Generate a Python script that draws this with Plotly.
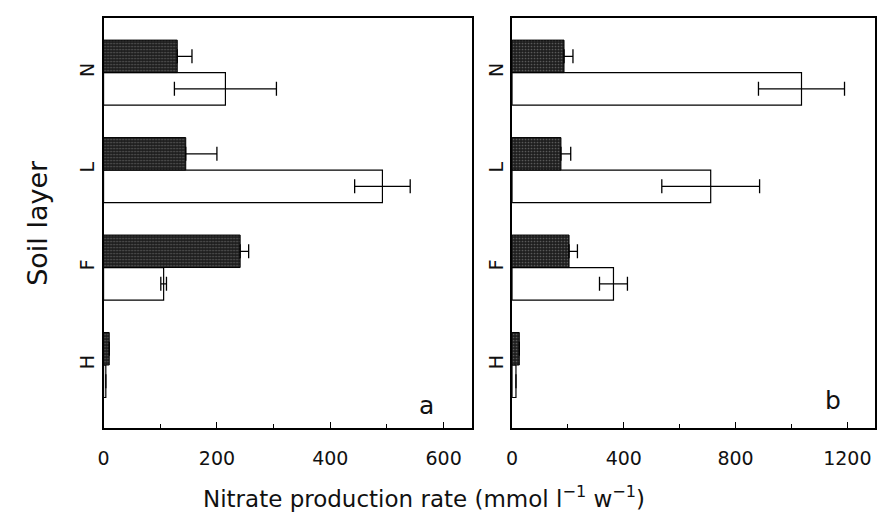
import plotly.graph_objects as go

layers = ["H", "F", "L", "N"]
# panel a
a_dark = [10, 241, 145, 130]
a_dark_err = [0, 15, 55, 26]
a_white = [4, 106, 492, 215]
a_white_err = [0, 5, 49, 90]
# panel b
b_dark = [26, 204, 175, 186]
b_dark_err = [0, 30, 35, 32]
b_white = [14, 363, 711, 1036]
b_white_err = [0, 50, 175, 154]

FONT = "DejaVu Sans"
dark_pattern = dict(shape=".", bgcolor="#1e1e1e", fgcolor="#9a9a9a", size=3, solidity=0.25)

fig = go.Figure()

def add_panel(white, white_err, dark, dark_err, xa, ya):
    fig.add_trace(go.Bar(
        y=layers, x=white, orientation="h", xaxis=xa, yaxis=ya,
        marker=dict(color="white", line=dict(color="black", width=1.2)),
        error_x=dict(type="data", array=white_err, color="black", thickness=1.3, width=7),
        showlegend=False))
    fig.add_trace(go.Bar(
        y=layers, x=dark, orientation="h", xaxis=xa, yaxis=ya,
        marker=dict(color="#1e1e1e", pattern=dark_pattern, line=dict(color="black", width=1)),
        error_x=dict(type="data", array=dark_err, arrayminus=[0] * len(dark_err),
                     symmetric=False, color="black", thickness=1.3, width=7),
        showlegend=False))

add_panel(a_white, a_white_err, a_dark, a_dark_err, "x", "y")
add_panel(b_white, b_white_err, b_dark, b_dark_err, "x2", "y2")

ydom = [0.169, 0.965]
common_x = dict(showline=True, mirror=True, linecolor="black", linewidth=1.5,
                ticks="inside", ticklen=6, tickcolor="black", showgrid=False, zeroline=False,
                ticklabelstandoff=12,
                tickfont=dict(family=FONT, size=19, color="#111"))
common_y = dict(showline=True, mirror=True, linecolor="black", linewidth=1.5,
                ticks="", showgrid=False, zeroline=False, type="category",
                categoryorder="array", categoryarray=layers, range=[-0.646, 3.56],
                tickangle=-90, tickfont=dict(family=FONT, size=19, color="#111"),
                domain=ydom)

fig.update_layout(
    width=877, height=515,
    margin=dict(l=0, r=0, t=0, b=0),
    paper_bgcolor="white", plot_bgcolor="white",
    barmode="group", bargap=0.333, bargroupgap=0,
    xaxis=dict(common_x, domain=[0.112, 0.535], range=[0, 650], tickvals=[0, 200, 400, 600],
               minor=dict(tickvals=[100, 300, 500], ticks="inside", ticklen=4, tickcolor="black")),
    xaxis2=dict(common_x, domain=[0.581, 0.998], range=[0, 1300], tickvals=[0, 400, 800, 1200],
                anchor="y2",
                minor=dict(tickvals=[200, 600, 1000], ticks="inside", ticklen=4, tickcolor="black")),
    yaxis=dict(common_y, anchor="x"),
    yaxis2=dict(common_y, anchor="x2"),
    font=dict(family=FONT, color="#111"),
)

fig.add_annotation(text="Soil layer", xref="paper", yref="paper", x=0.036, y=0.568,
                   xanchor="center", yanchor="middle",
                   textangle=-90, showarrow=False, font=dict(family=FONT, size=27, color="#111"))
fig.add_annotation(text="Nitrate production rate (mmol l<sup>−1</sup> w<sup>−1</sup>)",
                   xref="paper", yref="paper", x=0.480, y=0.035,
                   xanchor="center", yanchor="middle", showarrow=False,
                   font=dict(family=FONT, size=23, color="#111"))
fig.add_annotation(text="a", xref="x domain", yref="y domain", x=0.876, y=0.056,
                   xanchor="center", yanchor="middle",
                   showarrow=False, font=dict(family=FONT, size=25, color="#111"))
fig.add_annotation(text="b", xref="x2 domain", yref="y2 domain", x=0.883, y=0.068,
                   xanchor="center", yanchor="middle",
                   showarrow=False, font=dict(family=FONT, size=25, color="#111"))

fig.write_html("out.html")
